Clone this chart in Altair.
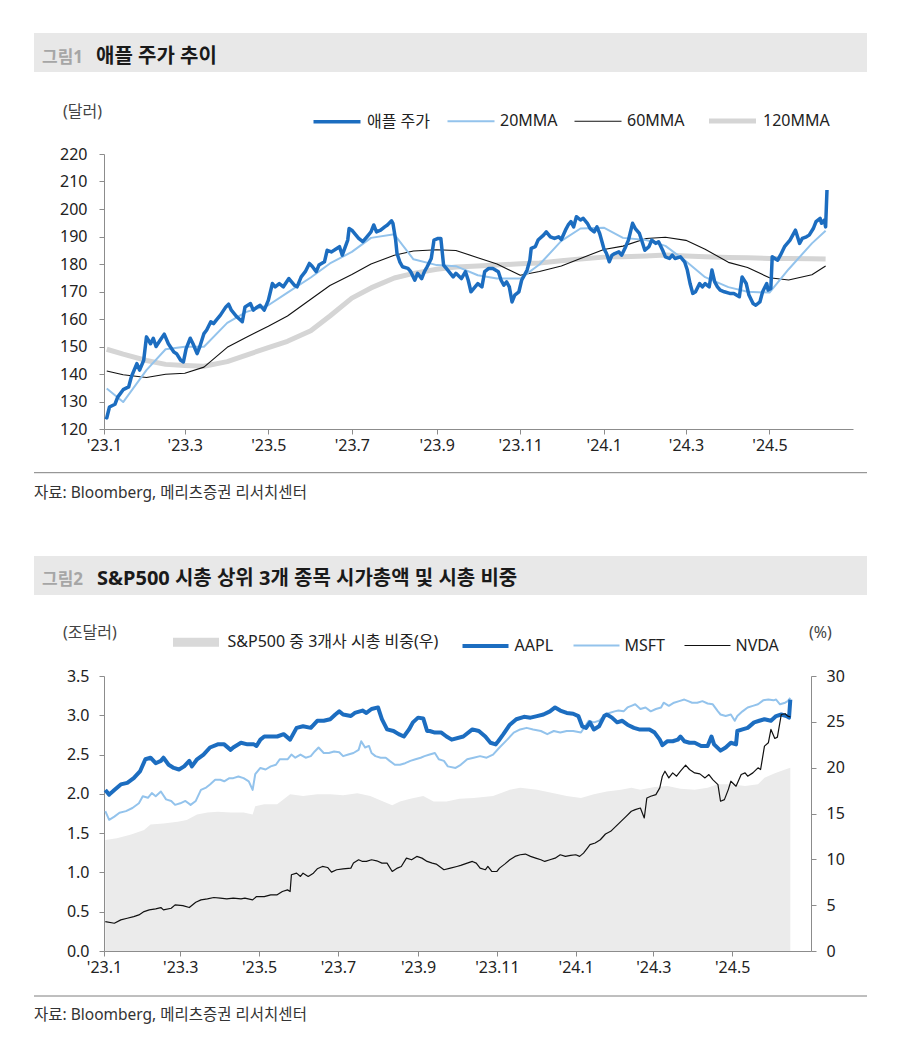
import altair as alt
import pandas as pd

FONT = "Noto Sans, Noto Sans CJK KR"
TEXT = "#222222"
AXIS_C = "#8c8c8c"
HEADER_C = "#e8e8e8"
BLUE = "#1c6dc0"
LIGHT = "#93c3ec"
BLACK = "#111111"
GRAY120 = "#d5d5d5"
SHARE_C = "#ebebeb"

# ---------------- text ----------------
FIG1_NO = "그림1"
FIG1_TITLE = "애플 주가 추이"
FIG1_UNIT = "(달러)"
FIG2_NO = "그림2"
FIG2_TITLE = "S&P500 시총 상위 3개 종목 시가총액 및 시총 비중"
FIG2_UNIT_L = "(조달러)"
FIG2_UNIT_R = "(%)"
SOURCE = "자료: Bloomberg, 메리츠증권 리서치센터"

SERIES1 = ["애플 주가", "20MMA", "60MMA", "120MMA"]
SHARE_NAME = "S&P500 중 3개사 시총 비중(우)"
SERIES2 = [SHARE_NAME, "AAPL", "MSFT", "NVDA"]

TICK_MONTHS = [(2023, 1), (2023, 3), (2023, 5), (2023, 7), (2023, 9), (2023, 11),
               (2024, 1), (2024, 3), (2024, 5)]
Y1_TICKS = [120, 130, 140, 150, 160, 170, 180, 190, 200, 210, 220]
Y2_TICKS = [0.0, 0.5, 1.0, 1.5, 2.0, 2.5, 3.0, 3.5]
Y2R_TICKS = [0, 5, 10, 15, 20, 25, 30]

# ---------------- figure 1 data (USD) ----------------
PRICE_DATES = [
    "2023-01-02", "2023-01-03", "2023-01-05", "2023-01-09", "2023-01-11", "2023-01-15", "2023-01-19", "2023-01-21",
    "2023-01-25", "2023-01-27", "2023-01-30", "2023-02-01", "2023-02-04", "2023-02-06", "2023-02-08", "2023-02-11",
    "2023-02-14", "2023-02-17", "2023-02-21", "2023-02-23", "2023-02-26", "2023-02-28", "2023-03-02", "2023-03-05",
    "2023-03-07", "2023-03-10", "2023-03-12", "2023-03-15", "2023-03-17", "2023-03-20", "2023-03-22", "2023-03-24",
    "2023-03-27", "2023-03-31", "2023-04-02", "2023-04-04", "2023-04-08", "2023-04-12", "2023-04-14", "2023-04-18",
    "2023-04-20", "2023-04-23", "2023-04-25", "2023-04-28", "2023-05-01", "2023-05-04", "2023-05-06", "2023-05-09",
    "2023-05-12", "2023-05-16", "2023-05-20", "2023-05-22", "2023-05-25", "2023-05-28", "2023-05-31", "2023-06-02",
    "2023-06-05", "2023-06-07", "2023-06-11", "2023-06-13", "2023-06-16", "2023-06-18", "2023-06-22", "2023-06-24",
    "2023-06-28", "2023-06-29", "2023-07-01", "2023-07-04", "2023-07-06", "2023-07-09", "2023-07-12", "2023-07-15",
    "2023-07-17", "2023-07-19", "2023-07-22", "2023-07-25", "2023-07-27", "2023-07-30", "2023-07-31", "2023-08-02",
    "2023-08-03", "2023-08-05", "2023-08-07", "2023-08-11", "2023-08-13", "2023-08-16", "2023-08-18", "2023-08-21",
    "2023-08-23", "2023-08-25", "2023-08-28", "2023-08-30", "2023-09-02", "2023-09-04", "2023-09-06", "2023-09-08",
    "2023-09-13", "2023-09-15", "2023-09-19", "2023-09-22", "2023-09-24", "2023-09-26", "2023-09-29", "2023-10-01",
    "2023-10-04", "2023-10-06", "2023-10-09", "2023-10-12", "2023-10-16", "2023-10-18", "2023-10-20", "2023-10-22",
    "2023-10-24", "2023-10-26", "2023-10-28", "2023-10-31", "2023-11-02", "2023-11-06", "2023-11-08", "2023-11-09",
    "2023-11-12", "2023-11-14", "2023-11-18", "2023-11-20", "2023-11-23", "2023-11-26", "2023-11-29", "2023-12-01",
    "2023-12-04", "2023-12-06", "2023-12-08", "2023-12-10", "2023-12-12", "2023-12-15", "2023-12-17", "2023-12-20",
    "2023-12-22", "2023-12-25", "2023-12-27", "2023-12-29", "2024-01-01", "2024-01-03", "2024-01-05", "2024-01-07",
    "2024-01-09", "2024-01-12", "2024-01-14", "2024-01-17", "2024-01-19", "2024-01-22", "2024-01-24", "2024-01-27",
    "2024-01-29", "2024-01-31", "2024-02-03", "2024-02-05", "2024-02-08", "2024-02-10", "2024-02-13", "2024-02-15",
    "2024-02-18", "2024-02-20", "2024-02-22", "2024-02-26", "2024-02-29", "2024-03-02", "2024-03-04", "2024-03-06",
    "2024-03-08", "2024-03-11", "2024-03-13", "2024-03-15", "2024-03-18", "2024-03-20", "2024-03-22", "2024-03-24",
    "2024-03-26", "2024-03-29", "2024-04-02", "2024-04-05", "2024-04-09", "2024-04-11", "2024-04-14", "2024-04-16",
    "2024-04-19", "2024-04-21", "2024-04-24", "2024-04-26", "2024-04-29", "2024-04-30", "2024-05-02", "2024-05-03",
    "2024-05-05", "2024-05-07", "2024-05-09", "2024-05-12", "2024-05-16", "2024-05-18", "2024-05-20", "2024-05-23",
    "2024-05-25", "2024-05-28", "2024-05-30", "2024-06-02", "2024-06-04", "2024-06-07", "2024-06-08", "2024-06-10",
    "2024-06-11", "2024-06-12",
]
PRICE = [
    124.4, 124.0, 128.0, 129.0, 131.6, 134.3, 135.3, 139.0,
    143.8, 141.4, 145.0, 153.5, 151.0, 153.0, 150.0, 152.3,
    154.5, 151.0, 148.0, 147.4, 145.0, 144.4, 149.2, 153.0,
    151.0, 147.4, 150.0, 154.7, 156.0, 159.0, 158.3, 159.6,
    161.4, 164.4, 165.4, 163.2, 160.8, 159.0, 164.4, 165.6,
    163.2, 164.4, 165.0, 163.2, 166.8, 172.9, 171.7, 172.9,
    171.7, 174.7, 172.3, 171.7, 175.3, 177.2, 180.2, 179.2,
    177.2, 179.6, 180.8, 185.0, 184.4, 185.0, 186.3, 183.2,
    188.7, 192.9, 192.3, 190.5, 189.3, 188.1, 189.9, 191.7,
    194.2, 191.7, 192.3, 193.5, 194.2, 195.7, 194.8, 188.7,
    183.8, 180.8, 179.0, 178.4, 177.2, 174.1, 176.6, 174.7,
    177.2, 179.0, 182.0, 188.7, 189.3, 189.3, 179.6, 178.4,
    175.3, 176.6, 174.7, 177.2, 174.1, 169.9, 171.7, 172.9,
    171.7, 177.2, 178.4, 178.4, 177.2, 174.1, 172.3, 173.5,
    171.7, 166.2, 168.7, 169.9, 174.1, 177.8, 181.4, 185.7,
    186.3, 188.7, 190.5, 191.7, 189.9, 189.3, 189.9, 188.9,
    192.3, 194.2, 195.4, 193.5, 197.2, 196.0, 196.6, 194.8,
    192.9, 191.7, 193.5, 191.1, 185.7, 183.8, 180.8, 183.2,
    183.8, 184.4, 183.2, 186.3, 188.7, 194.8, 192.9, 191.1,
    188.1, 185.0, 186.3, 188.7, 187.5, 188.1, 185.0, 182.6,
    182.0, 183.2, 182.0, 182.6, 180.8, 177.8, 172.9, 169.3,
    169.9, 172.9, 171.7, 172.9, 171.7, 177.8, 173.5, 171.7,
    170.5, 169.9, 169.3, 169.3, 168.1, 175.3, 172.9, 168.7,
    165.6, 165.0, 166.2, 169.9, 172.9, 170.5, 171.1, 182.6,
    182.0, 181.4, 183.2, 186.3, 188.7, 190.5, 192.3, 187.5,
    189.3, 189.9, 190.5, 192.9, 195.4, 196.6, 194.8, 196.0,
    193.5, 206.9,
]

MA_DATES = [
    "2023-01-03", "2023-01-15", "2023-02-01", "2023-02-15", "2023-03-01", "2023-03-15",
    "2023-04-01", "2023-04-15", "2023-05-01", "2023-05-15", "2023-06-01", "2023-06-15",
    "2023-07-01", "2023-07-15", "2023-08-01", "2023-08-15", "2023-09-01", "2023-09-15",
    "2023-10-01", "2023-10-15", "2023-11-01", "2023-11-15", "2023-12-01", "2023-12-15",
    "2024-01-01", "2024-01-15", "2024-02-01", "2024-02-15", "2024-03-01", "2024-03-15",
    "2024-04-01", "2024-04-15", "2024-05-01", "2024-05-15", "2024-06-01", "2024-06-11",
]
MA20 = [
    134.7, 129.8, 141.4, 149.0, 149.9, 149.9, 158.6, 162.6, 165.0, 169.6, 175.1, 180.2,
    184.4, 189.5, 190.8, 181.7, 179.6, 179.2, 175.9, 174.7, 174.7, 179.8, 188.4, 192.9,
    193.2, 189.5, 188.7, 186.6, 181.0, 175.2, 171.6, 169.9, 169.6, 178.1, 187.5, 192.1,
]
MA60 = [
    141.1, 139.7, 138.7, 139.9, 140.3, 142.5, 149.7, 153.4, 157.4, 161.1, 167.2, 172.2,
    176.2, 180.0, 183.2, 184.7, 185.2, 184.9, 182.3, 180.0, 175.9, 177.3, 179.3, 182.0,
    185.3, 186.5, 189.3, 189.7, 188.6, 185.4, 180.6, 178.7, 175.0, 174.2, 176.1, 179.3,
]
MA120 = [
    149.0, 147.2, 144.9, 143.5, 143.1, 142.8, 144.5, 146.9, 149.6, 151.9, 155.7, 161.1,
    167.6, 171.3, 174.9, 176.6, 178.1, 178.9, 179.3, 179.6, 180.1, 180.4, 181.2, 181.8,
    182.5, 182.6, 182.9, 183.3, 182.9, 182.6, 182.4, 182.3, 182.0, 182.0, 181.9, 181.8,
]

# ---------------- figure 2 data (USD trillion, %) ----------------
AAPL_DATES = [
    "2023-01-02", "2023-01-05", "2023-01-09", "2023-01-14", "2023-01-19", "2023-01-24", "2023-01-29", "2023-02-02",
    "2023-02-06", "2023-02-10", "2023-02-14", "2023-02-16", "2023-02-20", "2023-02-24", "2023-02-28", "2023-03-04",
    "2023-03-08", "2023-03-10", "2023-03-14", "2023-03-19", "2023-03-24", "2023-03-30", "2023-04-04", "2023-04-09",
    "2023-04-11", "2023-04-17", "2023-04-22", "2023-04-27", "2023-04-29", "2023-05-02", "2023-05-05", "2023-05-10",
    "2023-05-15", "2023-05-20", "2023-05-25", "2023-05-30", "2023-06-04", "2023-06-10", "2023-06-15", "2023-06-20",
    "2023-06-25", "2023-06-29", "2023-07-02", "2023-07-05", "2023-07-11", "2023-07-14", "2023-07-20", "2023-07-23",
    "2023-07-27", "2023-08-01", "2023-08-04", "2023-08-08", "2023-08-13", "2023-08-17", "2023-08-21", "2023-08-25",
    "2023-08-28", "2023-09-01", "2023-09-05", "2023-09-08", "2023-09-10", "2023-09-14", "2023-09-19", "2023-09-23",
    "2023-09-27", "2023-10-06", "2023-10-13", "2023-10-18", "2023-10-23", "2023-10-27", "2023-10-31", "2023-11-02",
    "2023-11-06", "2023-11-11", "2023-11-16", "2023-11-22", "2023-11-27", "2023-12-02", "2023-12-07", "2023-12-12",
    "2023-12-16", "2023-12-20", "2023-12-25", "2023-12-30", "2024-01-03", "2024-01-06", "2024-01-09", "2024-01-12",
    "2024-01-15", "2024-01-19", "2024-01-23", "2024-01-25", "2024-01-29", "2024-02-02", "2024-02-06", "2024-02-10",
    "2024-02-15", "2024-02-19", "2024-02-23", "2024-02-27", "2024-03-02", "2024-03-06", "2024-03-08", "2024-03-12",
    "2024-03-16", "2024-03-20", "2024-03-22", "2024-03-25", "2024-03-29", "2024-04-02", "2024-04-07", "2024-04-12",
    "2024-04-15", "2024-04-17", "2024-04-22", "2024-04-26", "2024-04-30", "2024-05-04", "2024-05-05", "2024-05-09",
    "2024-05-13", "2024-05-18", "2024-05-22", "2024-05-26", "2024-05-31", "2024-06-04", "2024-06-08", "2024-06-12",
    "2024-06-14", "2024-06-15",
]
AAPL_CAP = [
    2.05, 1.99, 2.05, 2.12, 2.14, 2.20, 2.29, 2.44,
    2.46, 2.39, 2.42, 2.46, 2.37, 2.33, 2.31, 2.35,
    2.42, 2.35, 2.44, 2.50, 2.59, 2.63, 2.63, 2.56,
    2.59, 2.65, 2.63, 2.63, 2.61, 2.69, 2.73, 2.73,
    2.73, 2.76, 2.69, 2.84, 2.86, 2.84, 2.93, 2.93,
    2.95, 3.01, 3.05, 3.01, 2.99, 3.03, 3.06, 3.03,
    3.08, 3.10, 2.95, 2.82, 2.80, 2.76, 2.73, 2.82,
    2.91, 2.97, 2.96, 2.80, 2.80, 2.78, 2.78, 2.73,
    2.69, 2.73, 2.82, 2.80, 2.73, 2.65, 2.63, 2.67,
    2.76, 2.88, 2.95, 2.98, 2.97, 2.99, 3.01, 3.05,
    3.10, 3.06, 3.03, 3.02, 2.99, 2.86, 2.84, 2.91,
    2.82, 2.86, 2.99, 3.01, 2.97, 2.91, 2.93, 2.88,
    2.84, 2.82, 2.82, 2.82, 2.78, 2.69, 2.62, 2.67,
    2.67, 2.69, 2.73, 2.67, 2.65, 2.65, 2.61, 2.61,
    2.73, 2.63, 2.55, 2.59, 2.65, 2.63, 2.80, 2.82,
    2.84, 2.91, 2.93, 2.95, 2.93, 2.99, 3.01, 2.99,
    2.97, 3.20,
]
MSFT_DATES = [
    "2023-01-02", "2023-01-05", "2023-01-09", "2023-01-13", "2023-01-18", "2023-01-23", "2023-01-28", "2023-01-31",
    "2023-02-04", "2023-02-07", "2023-02-10", "2023-02-14", "2023-02-18", "2023-02-22", "2023-02-25", "2023-03-01",
    "2023-03-05", "2023-03-09", "2023-03-13", "2023-03-17", "2023-03-21", "2023-03-24", "2023-03-28", "2023-04-01",
    "2023-04-04", "2023-04-08", "2023-04-11", "2023-04-15", "2023-04-19", "2023-04-23", "2023-04-26", "2023-04-28",
    "2023-05-02", "2023-05-06", "2023-05-10", "2023-05-14", "2023-05-17", "2023-05-23", "2023-05-26", "2023-05-29",
    "2023-06-02", "2023-06-06", "2023-06-10", "2023-06-13", "2023-06-16", "2023-06-20", "2023-06-24", "2023-06-28",
    "2023-07-02", "2023-07-05", "2023-07-09", "2023-07-13", "2023-07-17", "2023-07-19", "2023-07-22", "2023-07-25",
    "2023-07-27", "2023-07-30", "2023-08-03", "2023-08-07", "2023-08-10", "2023-08-14", "2023-08-18", "2023-08-22",
    "2023-08-26", "2023-08-30", "2023-09-03", "2023-09-06", "2023-09-10", "2023-09-14", "2023-09-17", "2023-09-21",
    "2023-09-24", "2023-09-30", "2023-10-04", "2023-10-09", "2023-10-14", "2023-10-19", "2023-10-24", "2023-10-29",
    "2023-11-03", "2023-11-09", "2023-11-14", "2023-11-19", "2023-11-24", "2023-11-29", "2023-12-05", "2023-12-10",
    "2023-12-15", "2023-12-20", "2023-12-25", "2023-12-30", "2024-01-05", "2024-01-09", "2024-01-11", "2024-01-15",
    "2024-01-19", "2024-01-23", "2024-01-27", "2024-01-31", "2024-02-03", "2024-02-07", "2024-02-10", "2024-02-13",
    "2024-02-16", "2024-02-20", "2024-02-24", "2024-02-28", "2024-03-03", "2024-03-07", "2024-03-09", "2024-03-13",
    "2024-03-17", "2024-03-21", "2024-03-25", "2024-03-28", "2024-03-31", "2024-04-04", "2024-04-08", "2024-04-12",
    "2024-04-16", "2024-04-20", "2024-04-22", "2024-04-26", "2024-04-30", "2024-05-03", "2024-05-05", "2024-05-09",
    "2024-05-13", "2024-05-17", "2024-05-21", "2024-05-25", "2024-05-29", "2024-06-02", "2024-06-04", "2024-06-07",
    "2024-06-11", "2024-06-13", "2024-06-15",
]
MSFT_CAP = [
    1.78, 1.67, 1.71, 1.76, 1.78, 1.82, 1.88, 1.97,
    1.95, 2.01, 1.97, 2.03, 1.93, 1.91, 1.86, 1.88,
    1.91, 1.86, 1.91, 2.05, 2.08, 2.12, 2.18, 2.18,
    2.16, 2.20, 2.20, 2.22, 2.20, 2.16, 2.05, 2.25,
    2.33, 2.31, 2.35, 2.37, 2.44, 2.44, 2.50, 2.46,
    2.50, 2.46, 2.48, 2.54, 2.59, 2.52, 2.52, 2.54,
    2.53, 2.48, 2.50, 2.52, 2.56, 2.67, 2.59, 2.61,
    2.52, 2.48, 2.46, 2.46, 2.42, 2.37, 2.37, 2.39,
    2.42, 2.44, 2.46, 2.48, 2.50, 2.52, 2.44, 2.42,
    2.35, 2.33, 2.37, 2.44, 2.46, 2.48, 2.46, 2.50,
    2.59, 2.69, 2.78, 2.82, 2.84, 2.82, 2.80, 2.76,
    2.80, 2.78, 2.80, 2.80, 2.78, 2.88, 2.93, 2.91,
    2.93, 2.99, 3.03, 3.05, 3.06, 3.05, 3.10, 3.12,
    3.14, 3.08, 3.10, 3.05, 3.08, 3.10, 3.16, 3.12,
    3.16, 3.18, 3.20, 3.18, 3.16, 3.16, 3.18, 3.15,
    3.14, 3.05, 3.01, 2.99, 3.01, 2.93, 2.99, 3.05,
    3.10, 3.12, 3.14, 3.19, 3.20, 3.19, 3.20, 3.14,
    3.16, 3.18, 3.22,
]
NVDA_DATES = [
    "2023-01-02", "2023-01-09", "2023-01-14", "2023-01-19", "2023-01-24", "2023-01-28", "2023-02-01", "2023-02-05",
    "2023-02-10", "2023-02-14", "2023-02-16", "2023-02-22", "2023-02-25", "2023-03-03", "2023-03-08", "2023-03-13",
    "2023-03-17", "2023-03-22", "2023-03-27", "2023-04-01", "2023-04-06", "2023-04-11", "2023-04-17", "2023-04-20",
    "2023-04-26", "2023-04-29", "2023-05-05", "2023-05-10", "2023-05-15", "2023-05-19", "2023-05-23", "2023-05-25",
    "2023-05-26", "2023-05-30", "2023-06-02", "2023-06-04", "2023-06-08", "2023-06-12", "2023-06-15", "2023-06-19",
    "2023-06-23", "2023-06-26", "2023-06-30", "2023-07-05", "2023-07-11", "2023-07-13", "2023-07-17", "2023-07-20",
    "2023-07-23", "2023-07-27", "2023-07-31", "2023-08-04", "2023-08-08", "2023-08-12", "2023-08-16", "2023-08-19",
    "2023-08-23", "2023-08-27", "2023-08-31", "2023-09-04", "2023-09-08", "2023-09-12", "2023-09-15", "2023-09-21",
    "2023-09-26", "2023-10-01", "2023-10-04", "2023-10-09", "2023-10-13", "2023-10-16", "2023-10-19", "2023-10-23",
    "2023-10-25", "2023-10-28", "2023-11-01", "2023-11-03", "2023-11-07", "2023-11-11", "2023-11-15", "2023-11-19",
    "2023-11-23", "2023-11-27", "2023-12-01", "2023-12-05", "2023-12-08", "2023-12-12", "2023-12-16", "2023-12-20",
    "2023-12-24", "2023-12-28", "2024-01-01", "2024-01-04", "2024-01-07", "2024-01-10", "2024-01-12", "2024-01-16",
    "2024-01-20", "2024-01-24", "2024-01-28", "2024-02-01", "2024-02-05", "2024-02-09", "2024-02-13", "2024-02-16",
    "2024-02-20", "2024-02-23", "2024-02-25", "2024-02-28", "2024-03-03", "2024-03-06", "2024-03-08", "2024-03-10",
    "2024-03-13", "2024-03-16", "2024-03-19", "2024-03-22", "2024-03-26", "2024-03-29", "2024-04-02", "2024-04-06",
    "2024-04-10", "2024-04-13", "2024-04-16", "2024-04-20", "2024-04-22", "2024-04-25", "2024-04-28", "2024-04-30",
    "2024-05-04", "2024-05-08", "2024-05-11", "2024-05-13", "2024-05-17", "2024-05-21", "2024-05-23", "2024-05-26",
    "2024-05-29", "2024-05-31", "2024-06-03", "2024-06-05", "2024-06-08", "2024-06-11", "2024-06-13", "2024-06-15",
]
NVDA_CAP = [
    0.374, 0.353, 0.396, 0.417, 0.438, 0.459, 0.502, 0.523,
    0.536, 0.553, 0.523, 0.544, 0.587, 0.578, 0.553, 0.621,
    0.651, 0.664, 0.681, 0.672, 0.664, 0.672, 0.664, 0.672,
    0.651, 0.693, 0.693, 0.715, 0.715, 0.757, 0.778, 0.757,
    0.970, 0.991, 0.949, 0.991, 0.949, 0.991, 1.046, 1.076,
    1.063, 1.004, 1.034, 1.046, 1.055, 1.119, 1.161, 1.140,
    1.140, 1.161, 1.148, 1.119, 1.119, 1.012, 1.055, 1.076,
    1.182, 1.161, 1.204, 1.182, 1.140, 1.119, 1.106, 1.034,
    1.055, 1.076, 1.089, 1.119, 1.140, 1.119, 1.055, 1.034,
    1.076, 1.012, 1.012, 1.055, 1.106, 1.161, 1.204, 1.225,
    1.234, 1.204, 1.182, 1.161, 1.140, 1.161, 1.182, 1.225,
    1.204, 1.216, 1.225, 1.204, 1.246, 1.310, 1.353, 1.374,
    1.416, 1.489, 1.523, 1.587, 1.650, 1.714, 1.778, 1.799,
    1.820, 1.693, 1.948, 1.969, 1.990, 2.076, 2.225, 2.288,
    2.203, 2.267, 2.225, 2.288, 2.365, 2.310, 2.267, 2.254,
    2.203, 2.246, 2.182, 2.118, 1.906, 1.927, 2.054, 2.161,
    2.097, 2.246, 2.267, 2.225, 2.267, 2.331, 2.310, 2.607,
    2.650, 2.820, 2.705, 2.722, 3.010, 3.020, 2.990, 2.980,
]
SHARE_DATES = [
    "2023-01-02", "2023-01-11", "2023-01-22", "2023-02-01", "2023-02-06", "2023-02-16", "2023-02-27", "2023-03-06",
    "2023-03-14", "2023-03-22", "2023-03-30", "2023-04-09", "2023-04-19", "2023-04-26", "2023-04-28", "2023-05-05",
    "2023-05-15", "2023-05-25", "2023-06-04", "2023-06-15", "2023-06-25", "2023-07-05", "2023-07-16", "2023-07-26",
    "2023-08-05", "2023-08-12", "2023-08-18", "2023-08-26", "2023-09-05", "2023-09-13", "2023-09-23", "2023-10-03",
    "2023-10-14", "2023-10-29", "2023-11-11", "2023-11-19", "2023-12-02", "2023-12-15", "2023-12-25", "2024-01-05",
    "2024-01-15", "2024-01-25", "2024-02-05", "2024-02-13", "2024-02-20", "2024-03-02", "2024-03-12", "2024-03-22",
    "2024-04-02", "2024-04-12", "2024-04-20", "2024-04-30", "2024-05-11", "2024-05-21", "2024-05-26", "2024-06-03",
    "2024-06-11", "2024-06-15",
]
SHARE = [
    12.1, 12.3, 12.7, 13.2, 13.8, 13.9, 14.1, 14.3,
    14.9, 15.1, 15.2, 15.1, 15.1, 14.9, 15.8, 16.0,
    16.0, 17.1, 16.9, 17.1, 17.1, 17.0, 17.2, 16.9,
    16.3, 15.9, 16.3, 16.6, 16.9, 16.3, 16.3, 16.6,
    16.7, 16.9, 17.6, 17.8, 17.6, 17.2, 16.9, 16.7,
    17.1, 17.4, 17.6, 17.8, 17.6, 17.9, 18.0, 17.7,
    17.6, 17.8, 18.2, 18.2, 18.0, 18.2, 18.9, 19.4,
    19.8, 20.0,
]


# ---------------- helpers ----------------
def frame(dates, values, name):
    return pd.DataFrame({"date": pd.to_datetime(dates), "value": values, "series": name})


def label(text, x, y, size, color, weight="normal", baseline="alphabetic"):
    return alt.Chart(pd.DataFrame({"t": [text]})).mark_text(
        align="left", baseline=baseline, font=FONT, fontSize=size, fontWeight=weight, color=color
    ).encode(x=alt.value(x), y=alt.value(y), text="t:N")


def header(x1, x2, y1, y2):
    return alt.Chart(pd.DataFrame({"k": [0]})).mark_rect(color=HEADER_C).encode(
        x=alt.value(x1), x2=alt.value(x2), y=alt.value(y1), y2=alt.value(y2))


def hline(x1, x2, y):
    return alt.Chart(pd.DataFrame({"k": [0]})).mark_rule(color="#7f7f7f", strokeWidth=1).encode(
        x=alt.value(x1), x2=alt.value(x2), y=alt.value(y))


TICKS = [alt.DateTime(year=y, month=m, date=1) for (y, m) in TICK_MONTHS]
LABEL_EXPR = "\"'\" + timeFormat(datum.value, '%y') + '.' + (month(datum.value) + 1)"
X_SCALE = alt.Scale(domain=[alt.DateTime(year=2023, month=1, date=1), alt.DateTime(year=2024, month=7, date=1)])


def x_enc():
    return alt.X("date:T", scale=X_SCALE, title=None,
                 axis=alt.Axis(values=TICKS, labelExpr=LABEL_EXPR, grid=False, tickSize=5, labelPadding=3,
                               labelFlush=False, labelOverlap=False, domainColor=AXIS_C, tickColor=AXIS_C,
                               labelFont=FONT, labelFontSize=16, labelColor=TEXT))


def y_axis(values, orient, pad, fmt):
    return alt.Axis(values=values, orient=orient, title=None, grid=False, tickSize=5, labelPadding=pad,
                    format=fmt, domainColor=AXIS_C, tickColor=AXIS_C, labelFont=FONT, labelFontSize=16,
                    labelColor=TEXT)


def legend(lx, ly, sym, off, pad):
    return alt.Legend(orient="none", legendX=lx, legendY=ly, direction="horizontal", title=None,
                      symbolType="stroke", symbolSize=sym, labelFont=FONT, labelFontSize=16,
                      labelColor=TEXT, labelOffset=off, columnPadding=pad, labelLimit=400, padding=0)


X0 = 103  # page x of both plot areas
HX1, HX2 = 33 - X0, 866 - X0

# ---------------- figure 1 ----------------
W1, H1 = 852 - X0, 275
df1 = pd.concat([frame(PRICE_DATES, PRICE, SERIES1[0]), frame(MA_DATES, MA20, SERIES1[1]),
                 frame(MA_DATES, MA60, SERIES1[2]), frame(MA_DATES, MA120, SERIES1[3])])
leg1 = legend(310.5 - X0, -59, 2209, 4.5, 13)
base1 = alt.Chart(df1).mark_line(strokeJoin="round").encode(
    x=x_enc(),
    y=alt.Y("value:Q", scale=alt.Scale(domain=[120, 220], nice=False, zero=False),
            axis=y_axis(Y1_TICKS, "left", 12, "d")),
    color=alt.Color("series:N", scale=alt.Scale(domain=SERIES1, range=[BLUE, LIGHT, BLACK, GRAY120]), legend=leg1),
    strokeWidth=alt.StrokeWidth("series:N", scale=alt.Scale(type="ordinal", domain=SERIES1, range=[3.5, 2, 1.1, 5]),
                                legend=leg1),
)
lines1 = [base1.transform_filter(alt.datum.series == s) for s in ["120MMA", "60MMA", "20MMA", "애플 주가"]]

panel1 = alt.layer(
    header(HX1, HX2, -121, -82),
    label(FIG1_NO, 41 - X0, -91, 17, "#a6a6a6", "bold"),
    label(FIG1_TITLE, 95 - X0, -91, 20, "#1a1a1a", "bold"),
    label(FIG1_UNIT, 62 - X0, -42, 16, "#444444", baseline="middle"),
    *lines1,
    hline(HX1, HX2, 318.7),
    label(SOURCE, HX1, 344, 15.5, "#333333"),
).properties(width=W1, height=H1)

# ---------------- figure 2 ----------------
W2, H2 = 810 - X0, 275
df2 = pd.concat([frame(AAPL_DATES, AAPL_CAP, "AAPL"), frame(MSFT_DATES, MSFT_CAP, "MSFT"),
                 frame(NVDA_DATES, NVDA_CAP, "NVDA")])
share_df = pd.DataFrame({"date": pd.to_datetime(SHARE_DATES), "share": SHARE})
leg2 = legend(167.5 - X0, -61.5, 2116, 4, 16)
base2 = alt.Chart(df2).mark_line(strokeJoin="round").encode(
    x=x_enc(),
    y=alt.Y("value:Q", scale=alt.Scale(domain=[0, 3.5], nice=False, zero=True),
            axis=y_axis(Y2_TICKS, "left", 10, ".1f")),
    color=alt.Color("series:N", scale=alt.Scale(domain=SERIES2, range=["#d9d9d9", BLUE, LIGHT, BLACK]), legend=leg2),
    strokeWidth=alt.StrokeWidth("series:N", scale=alt.Scale(type="ordinal", domain=SERIES2, range=[9, 4, 2, 1.2]),
                                legend=leg2),
)
lines2 = alt.layer(*[base2.transform_filter(alt.datum.series == s) for s in ["MSFT", "AAPL", "NVDA"]])
share_area = alt.Chart(share_df).mark_area(color=SHARE_C).encode(
    x=x_enc(),
    y=alt.Y("share:Q", scale=alt.Scale(domain=[0, 30], nice=False), axis=y_axis(Y2R_TICKS, "right", 10, "d")),
)

panel2 = alt.layer(
    header(HX1, HX2, -120, -81),
    label(FIG2_NO, 41 - X0, -91, 17, "#a6a6a6", "bold"),
    label(FIG2_TITLE, 96 - X0, -91, 20, "#1a1a1a", "bold"),
    label(FIG2_UNIT_L, 62 - X0, -43, 16, "#444444", baseline="middle"),
    label(FIG2_UNIT_R, 808 - X0, -43, 16, "#444444", baseline="middle"),
    share_area,
    lines2,
    hline(HX1, HX2, 320),
    label(SOURCE, HX1, 344, 15.5, "#333333"),
).resolve_scale(y="independent").properties(width=W2, height=H2)

chart = alt.vconcat(panel1, panel2, spacing=54).resolve_scale(
    color="independent", strokeWidth="independent", x="independent"
).resolve_legend(color="independent", strokeWidth="independent").configure(
    font=FONT, padding={"left": 25, "top": 25, "right": 10, "bottom": 10}
).configure_view(stroke=None)

chart.save("out.html", embed_options={"renderer": "svg", "actions": False})
